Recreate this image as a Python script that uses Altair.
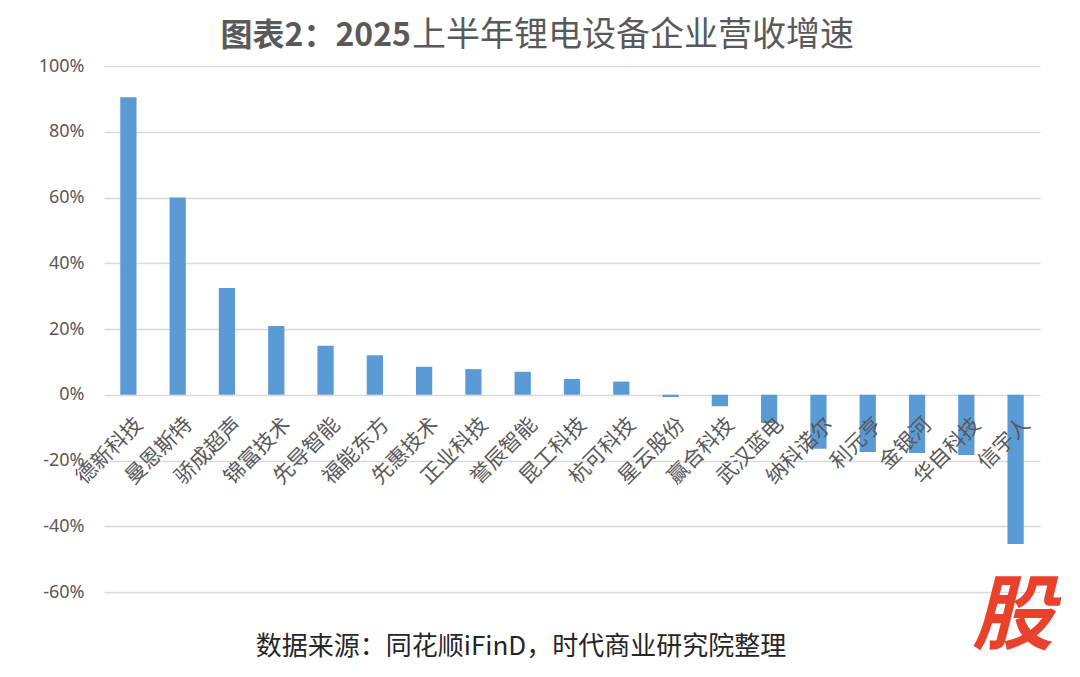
import altair as alt
import pandas as pd

companies = ["德新科技", "曼恩斯特", "骄成超声", "锦富技术", "先导智能", "福能东方", "先惠技术",
             "正业科技", "誉辰智能", "昆工科技", "杭可科技", "星云股份", "赢合科技", "武汉蓝电",
             "纳科诺尔", "利元亨", "金银河", "华自科技", "信宇人"]
growth = [0.905, 0.600, 0.325, 0.209, 0.149, 0.120, 0.085, 0.078, 0.070, 0.048, 0.040,
          -0.007, -0.035, -0.086, -0.164, -0.174, -0.177, -0.183, -0.454]
y_ticks = [-0.6, -0.4, -0.2, 0.0, 0.2, 0.4, 0.6, 0.8, 1.0]

title_part1 = "图表2：2025"
title_part2 = "上半年锂电设备企业营收增速"
source_text = "数据来源：同花顺iFinD，时代商业研究院整理"
logo_text = "股"

df = pd.DataFrame({"company": companies, "growth": growth, "zero": [0.0] * len(companies)})

FONT = "Noto Sans CJK SC"
W, H = 936, 526
LEFT, TOP = 96, 58

xenc = alt.X("company:N", sort=None, axis=None,
             scale=alt.Scale(paddingInner=0.67, paddingOuter=0.33))
yscale = alt.Scale(domain=[-0.6, 1.0], nice=False, zero=False)

bars = alt.Chart(df).mark_bar(color="#5B9BD5").encode(
    x=xenc,
    y=alt.Y("growth:Q", scale=yscale, title=None,
            axis=alt.Axis(values=y_ticks,
                          labelExpr="(datum.value < 0 ? '-' : '') + format(abs(datum.value), '.0%')",
                          labelFontSize=18, labelColor="#595959", labelFont="Noto Sans",
                          ticks=False, domain=False, labelPadding=20,
                          gridColor="#D9D9D9", gridWidth=1.3)),
)

labels = alt.Chart(df).mark_text(angle=315, align="right", baseline="middle",
                                 fontSize=21, font=FONT, color="#595959",
                                 dx=-11, dy=27).encode(
    x=xenc,
    y=alt.Y("zero:Q", scale=yscale),
    text="company:N",
)

def page_text(txt, px, py, **kw):
    return alt.Chart(pd.DataFrame({"t": [txt]})).mark_text(
        font=FONT, baseline="middle", **kw
    ).encode(x=alt.value(px - 8 - LEFT), y=alt.value(py - 8 - TOP), text="t:N")

t1 = page_text(title_part1, 411, 36, fontSize=32, fontWeight="bold", color="#595959", align="right")
t2 = page_text(title_part2, 412, 36, fontSize=34, fontWeight="normal", color="#595959", align="left")
source = page_text(source_text, 521, 647, fontSize=26, color="#262626", align="center")
logo = page_text(logo_text, 1013, 618, fontSize=82, fontWeight="bold", fontStyle="italic",
                 color="#E8412C", align="center")

chart = alt.layer(bars, labels, t1, t2, source, logo).properties(
    width=W, height=H,
    autosize=alt.AutoSizeParams(type="none"),
    padding={"left": LEFT, "top": TOP, "right": 32, "bottom": 77},
).configure_view(stroke=None)

chart.save("out.html", embed_options={"renderer": "svg", "actions": False})
